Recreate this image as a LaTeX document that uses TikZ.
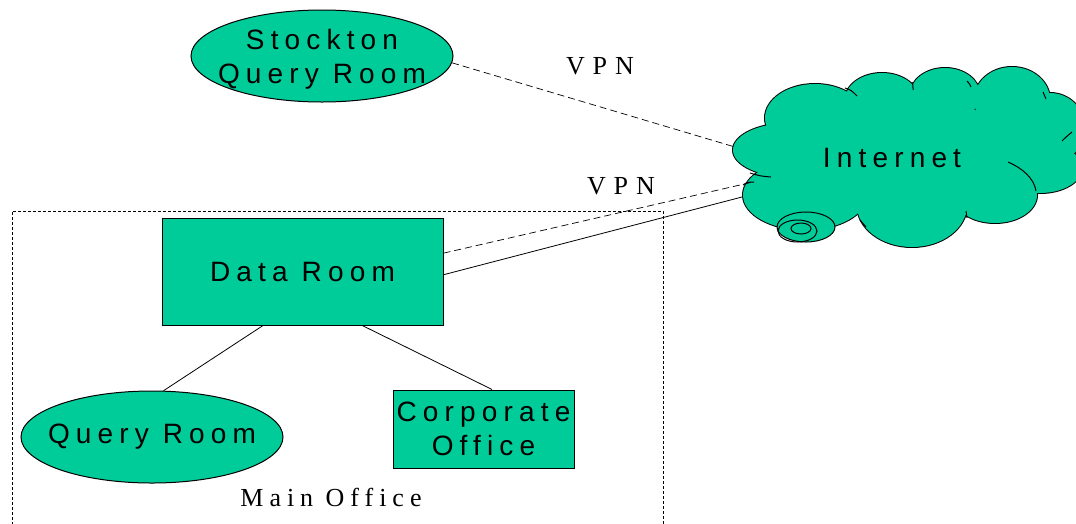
\documentclass[tikz,border=0pt]{standalone}
\usepackage{fontspec}
\usetikzlibrary{shapes.geometric,calc}
\newfontfamily\labelsans[LetterSpace=22]{Liberation Sans}
\newfontfamily\labelserif[LetterSpace=30]{Liberation Serif}
\definecolor{roomgreen}{RGB}{0,204,153}
\begin{document}
\begin{tikzpicture}[x=1pt,y=-1pt,
  roomfont/.style={font=\labelsans\fontsize{28}{34}\selectfont, align=center, inner sep=0pt},
  room/.style={roomfont, draw=black, line width=1pt, fill=roomgreen},
  oval/.style={room, ellipse},
  box/.style={room, rectangle},
  link/.style={line width=0.8pt},
  vpnlink/.style={line width=0.7pt, dash pattern=on 7pt off 4pt},
  frame/.style={line width=0.9pt, dash pattern=on 3pt off 2pt},
  tag/.style={font=\labelserif\fontsize{26}{30}\selectfont, inner sep=0pt},
  wrinkle/.style={line width=1pt},
]
\useasboundingbox (0,0) rectangle (1076,523);

% Main office boundary
\coordinate (fbl) at (12,540);
\coordinate (ftl) at (12,211);
\coordinate (ftr) at (663,211);
\coordinate (fbr) at (663,540);
\draw[frame] (fbl) -- (ftl) -- (ftr) -- (fbr);

% Rooms
\node[oval, minimum width=262pt, minimum height=92pt] (stockton) at (322,56) {};
\node[roomfont] (stocktontext) at (322,59) {Stockton\\Query Room};
\node[oval, minimum width=262pt, minimum height=92pt] (qroom) at (152,437)
  {\makebox[0pt]{Query Room}};
\node[box, minimum width=281pt, minimum height=107pt] (data) at (302.5,271.5) {Data Room};
\node[box, minimum width=181pt, minimum height=78pt] (corp) at (483.5,429) {Corporate\\Office};

% Labels
\node[tag] (vpnA) at (600,66) {VPN};
\node[tag] (vpnB) at (621,186) {VPN};
\node[tag] (main) at (331,497) {\addfontfeature{LetterSpace=23}Main Office};

% Internet cloud: outlined puffs, then filled again to keep only the outer rim
\def\puffs{790/150/57/27, 815/118/50/34, 882/100/37/27, 945/95/35/27,
  1012/100/38/33, 1050/128/35/35, 1040/168/42/25, 995/195/42/28,
  912/205/55/42, 805/195/62/35}
\foreach \cx/\cy/\rx/\ry in \puffs
  \draw[line width=2pt] (\cx,\cy) ellipse [x radius=\rx pt, y radius=\ry pt];
\foreach \cx/\cy/\rx/\ry in \puffs
  \fill[roomgreen] (\cx,\cy) ellipse [x radius=\rx pt, y radius=\ry pt];
\fill[roomgreen] (900,155) ellipse [x radius=130pt, y radius=55pt];

% inner wrinkles of the cloud
\draw[wrinkle] (1008,162) .. controls (1022,168) and (1034,178) .. (1036,191);
\draw[wrinkle] (845,88) .. controls (851,90) .. (857,96);
\draw[wrinkle] (912,82) .. controls (913,85) .. (913,90);
\draw[wrinkle] (967,81) .. controls (969,83) .. (971,87);
\draw[wrinkle] (1043,92) .. controls (1045,95) .. (1046,99);
\draw[wrinkle] (1062,141) .. controls (1066,137) .. (1072,132);
\draw[wrinkle] (966,211) .. controls (967,214) .. (967,218);
\draw[wrinkle] (860,220) .. controls (863,223) .. (866,227);
\draw[wrinkle] (771,177) .. controls (760,176) .. (750,173);
\draw[wrinkle] (743,185) .. controls (748,182) .. (754,182);

% scroll at the lower left of the cloud
\filldraw[fill=roomgreen, line width=1pt] (806,227) ellipse [x radius=29pt, y radius=15pt];
\draw[line width=1pt] (797.5,231) ellipse [x radius=19.5pt, y radius=11pt];
\draw[line width=1pt] (801,228.5) ellipse [x radius=10pt, y radius=5.5pt];

\node[roomfont] (inet) at (892,158) {Internet};

% Cloud attachment points
\coordinate (netA) at (735,147);
\coordinate (netB) at (753,182);
\coordinate (netC) at (742,197);

% Connections
\draw[link] ($(data.south west)!0.36!(data.south east)$) -- (qroom.76);
\draw[link] ($(data.south west)!0.712!(data.south east)$) -- ($(corp.north west)!0.547!(corp.north east)$);
\draw[vpnlink] (stockton.-3) -- (netA);
\draw[vpnlink] ($(data.north east)!0.33!(data.south east)$) -- (netB);
\draw[link] ($(data.north east)!0.53!(data.south east)$) -- (netC);
\end{tikzpicture}
\end{document}
